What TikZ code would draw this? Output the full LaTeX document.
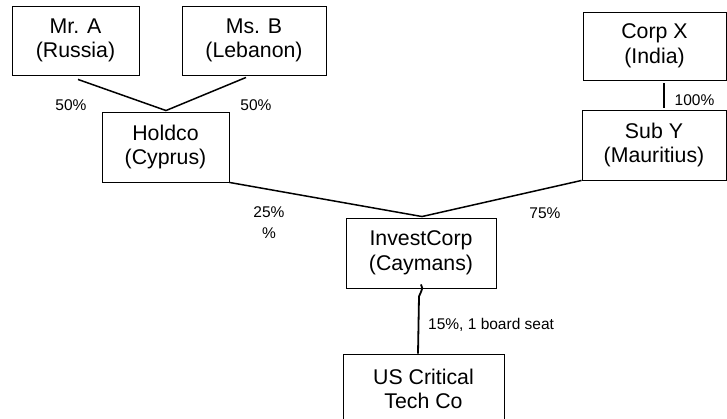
\documentclass[tikz,border=0pt]{standalone}
\usepackage{fontspec}
\setmainfont{Liberation Sans}
\begin{document}
\begin{tikzpicture}[x=1pt,y=-1pt,
  entity/.style={draw=black,line width=0.9pt,fill=white,inner sep=0pt,align=center,
    font=\fontsize{21.3}{24.5}\selectfont},
  pct/.style={inner sep=0pt,font=\fontsize{15.5}{18}\selectfont},
  link/.style={line width=1.5pt}]
\useasboundingbox (0,0) rectangle (727,419);
\clip (0,0) rectangle (727,419);
\node[entity,minimum width=127pt,minimum height=69pt] (mra) at (75.5,40.5) {Mr. A\\(Russia)};
\node[entity,minimum width=144pt,minimum height=69pt] (msb) at (254,40.5) {Ms. B\\(Lebanon)};
\node[entity,minimum width=127pt,minimum height=70pt] (holdco) at (165.5,147) {Holdco\\(Cyprus)};
\node[entity,minimum width=143pt,minimum height=68pt] (corpx) at (654.5,46) {Corp X\\(India)};
\node[entity,minimum width=144pt,minimum height=70pt] (suby) at (654,145) {Sub Y\\(Mauritius)};
\node[entity,minimum width=150pt,minimum height=70pt] (invest) at (421,253) {InvestCorp\\(Caymans)};
\node[entity,minimum width=161pt,minimum height=70pt] (us) at (423.5,389) {US Critical\\Tech Co};

\draw[link] ([shift={(2.5,4)}]mra.south) -- ([shift={(0.5,-1)}]holdco.north);
\draw[link] ([shift={(-8,2)}]msb.south) -- ([shift={(0.5,-1)}]holdco.north);
\draw[link] (holdco.south east) -- ([shift={(1,-1)}]invest.north);
\draw[link] (suby.south west) -- ([shift={(1,-1)}]invest.north);
\draw[link] ([shift={(9.5,3)}]corpx.south) -- ([shift={(10,-2)}]suby.north);
\draw[line width=1.8pt] ([shift={(0,-4)}]invest.south) .. controls ([shift={(2,-1)}]invest.south) .. ([shift={(-2,8)}]invest.south) -- ([shift={(-5.5,0)}]us.north);

\node[pct] (l1) at (71,105) {50\%};
\node[pct] (l2) at (256,105) {50\%};
\node[pct] (l3) at (269,212) {25\%};
\node[pct] (l3b) at (269,233) {\%};
\node[pct] (l4) at (545,213) {75\%};
\node[pct] (l5) at (694.5,100) {100\%};
\node[pct,anchor=west] (l6) at (428,325) {15\%, 1 board seat};
\end{tikzpicture}
\end{document}
